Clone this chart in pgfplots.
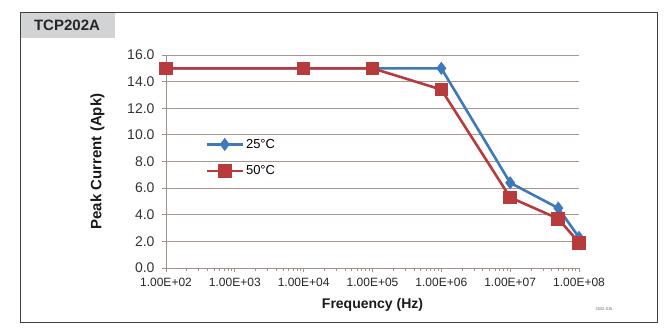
\documentclass[border=0pt]{standalone}
\usepackage{pgfplots}
\pgfplotsset{compat=1.18}
\usepackage{fontspec}
\setmainfont{Liberation Sans}
\definecolor{blueS}{HTML}{3E79B9}
\definecolor{redS}{HTML}{B73A3C}
\definecolor{gridC}{HTML}{A8978F}
\definecolor{axisC}{HTML}{A0918A}
\definecolor{hdr}{HTML}{D1D3D4}
\begin{document}
\begin{tikzpicture}[x=1bp,y=1bp]
\path[use as bounding box] (0,0) rectangle (664,331);
\fill[hdr] (20,319) rectangle (115,293);
\draw[black!75, line width=0.8bp] (20,9) rectangle (657,319);
\node[font=\fontsize{15bp}{17bp}\selectfont\bfseries, text=black!85] at (67,306) {TCP202A};
\begin{axis}[
  at={(166bp,63bp)}, anchor=south west,
  scale only axis, width=413bp, height=213bp,
  xmode=log, xmin=100, xmax=1e8, ymin=0, ymax=16,
  xtick={1e2,1e3,1e4,1e5,1e6,1e7,1e8},
  xticklabels={1.00E+02,1.00E+03,1.00E+04,1.00E+05,1.00E+06,1.00E+07,1.00E+08},
  minor xtick={}, 
  ytick={0,2,4,6,8,10,12,14,16},
  yticklabel style={xshift=-4bp, font=\fontsize{14bp}{16bp}\selectfont, text=black!80,
    /pgf/number format/fixed, /pgf/number format/fixed zerofill,
    /pgf/number format/precision=1, /pgf/number format/assume math mode=true},
  xticklabel style={yshift=-3bp, font=\fontsize{12bp}{14bp}\selectfont, text=black!85},
  axis x line*=bottom, axis y line*=left,
  x axis line style={axisC, line width=0.8bp, -},
  y axis line style={axisC, line width=0.8bp, -},
  ymajorgrids, grid style={gridC, line width=0.9bp},
  tick style={axisC, line width=0.8bp},
  xtick align=outside, ytick align=outside,
  major tick length=4bp,
  xlabel={\bfseries Frequency (Hz)}, ylabel={\bfseries Peak Current (Apk)},
  xlabel style={font=\fontsize{14bp}{16bp}\selectfont, text=black!90, yshift=-4bp},
  ylabel style={font=\fontsize{15bp}{17bp}\selectfont, text=black!90, yshift=16bp},
  legend style={at={(0.095,0.615)}, anchor=north west, draw=none, fill=none,
     font=\fontsize{13bp}{15bp}\selectfont, row sep=12bp, inner sep=0pt},
  legend cell align=left,
  legend image code/.code={\draw[#1, mark repeat=2, mark phase=2] plot coordinates {(0bp,0bp) (18bp,0bp) (36bp,0bp)};},
  clip=false,
]
\addplot[blueS, line width=2.6bp, mark=diamond*, mark size=4.5bp, mark options={solid}] coordinates {
 (1e2,15) (1e4,15) (1e5,15) (1e6,15) (1e7,6.4) (5e7,4.5) (1e8,2.3)};
\addlegendentry{25°C}
\addplot[redS, line width=2.6bp, mark=square*, mark size=5.5bp, mark options={solid}] coordinates {
 (1e2,15) (1e4,15) (1e5,15) (1e6,13.4) (1e7,5.3) (5e7,3.7) (1e8,1.9)};
\addlegendentry{50°C}
\end{axis}
\node[font=\fontsize{4bp}{5bp}\selectfont, text=black!60] at (604,22) {2002-015};
\end{tikzpicture}
\end{document}
